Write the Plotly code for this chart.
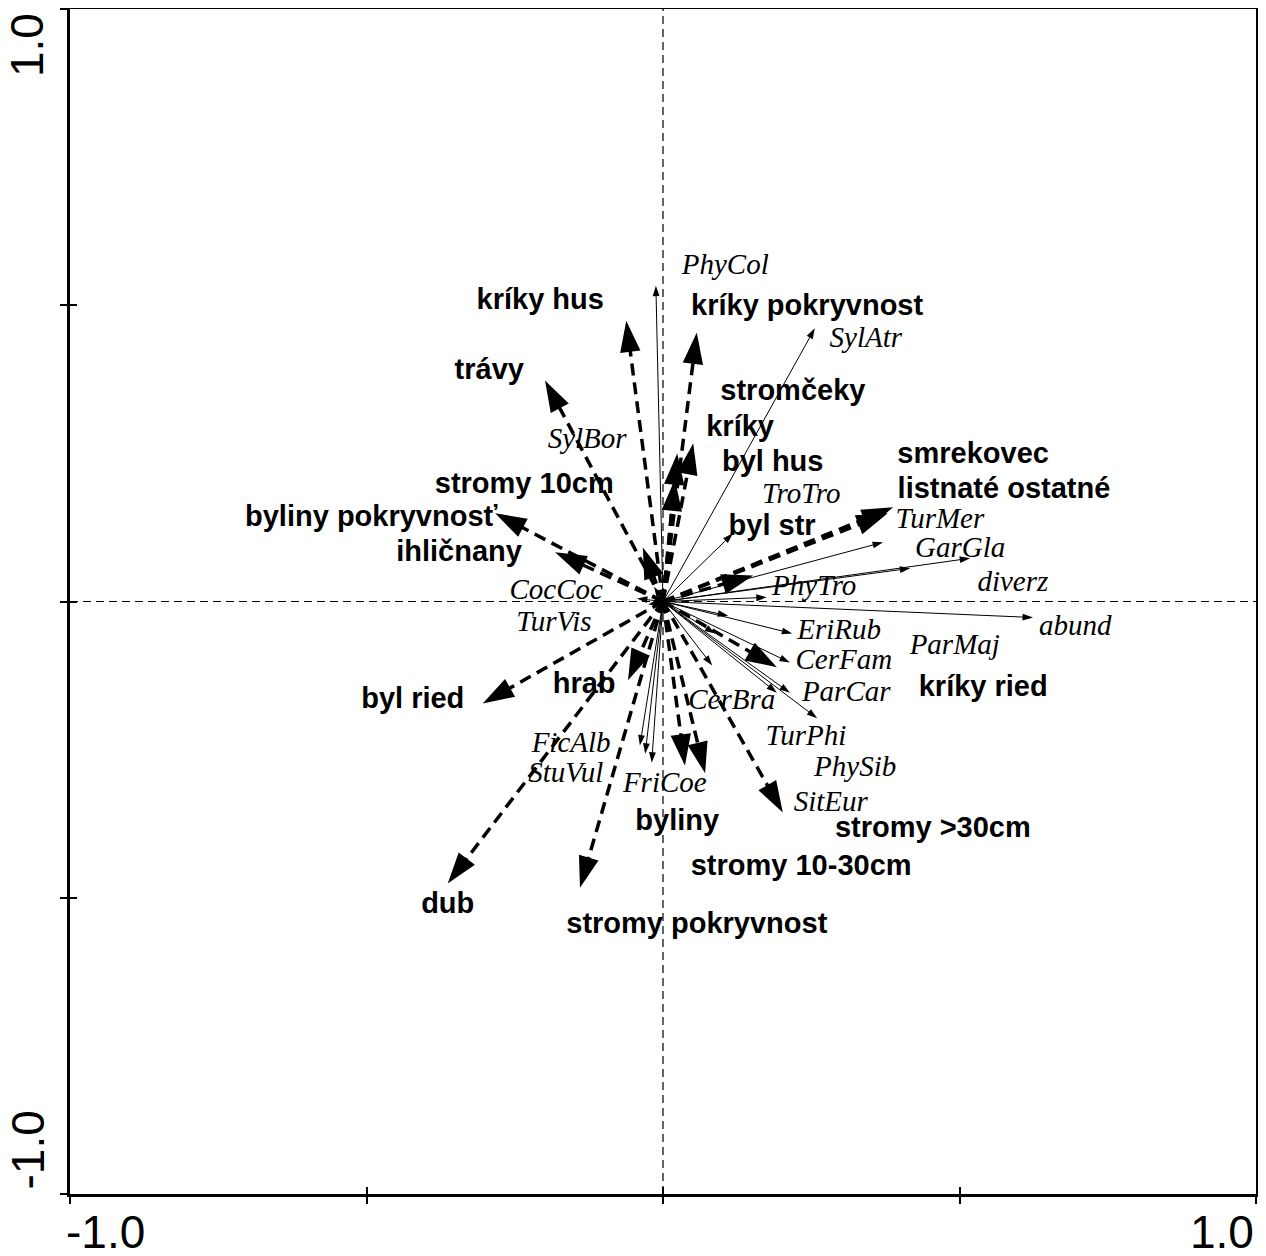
import plotly.graph_objects as go

# ---------------- data (biplot scores) ----------------
env_names = ["kríky hus", "kríky pokryvnost", "trávy", "stromčeky", "kríky", "byl hus",
             "stromy 10cm", "byliny pokryvnosť", "ihličnany", "byl str", "smrekovec",
             "listnaté ostatné", "byl ried", "hrab", "dub", "stromy pokryvnost", "byliny",
             "stromy 10-30cm", "stromy >30cm", "kríky ried"]
env_x = [-0.062, 0.057, -0.199, 0.051, 0.024, 0.020, -0.034, -0.283, -0.182, 0.152, 0.388,
         0.379, -0.304, -0.059, -0.363, -0.140, 0.037, 0.071, 0.202, 0.192]
env_y = [0.474, 0.454, 0.373, 0.267, 0.250, 0.206, 0.091, 0.149, 0.083, 0.044, 0.159,
         0.149, -0.172, -0.133, -0.476, -0.483, -0.277, -0.290, -0.356, -0.111]

spe_names = ["PhyCol", "SylAtr", "SylBor", "TroTro", "TurMer", "GarGla", "diverz", "PhyTro",
             "CocCoc", "TurVis", "abund", "EriRub", "ParMaj", "CerFam", "CerBra", "ParCar",
             "TurPhi", "PhySib", "SitEur", "FicAlb", "StuVul", "FriCoe"]
spe_x = [-0.012, 0.256, -0.015, 0.118, 0.371, 0.417, 0.518, 0.175, -0.044, -0.025, 0.624,
         0.218, 0.110, 0.214, 0.083, 0.214, 0.260, 0.192, 0.088, -0.039, -0.030, -0.019]
spe_y = [0.533, 0.461, 0.025, 0.115, 0.100, 0.056, 0.073, 0.007, 0.005, -0.005, -0.027,
         -0.054, -0.024, -0.103, -0.108, -0.154, -0.197, -0.154, -0.054, -0.243, -0.257, -0.272]

axis_tick_vals = [-1.0, -0.5, 0.0, 0.5, 1.0]
axis_end_labels = ["-1.0", "1.0"]

# ---------------- label placement (layout) ----------------
env_lab_x = [-0.207, 0.243, -0.293, 0.219, 0.130, 0.185, -0.234, -0.492, -0.344, 0.184, 0.523,
             0.575, -0.422, -0.133, -0.363, 0.057, 0.024, 0.233, 0.455, 0.540]
env_lab_y = [0.506, 0.496, 0.388, 0.353, 0.292, 0.233, 0.196, 0.140, 0.081, 0.125, 0.246,
             0.187, -0.167, -0.143, -0.513, -0.547, -0.373, -0.449, -0.385, -0.147]
spe_lab_x = [0.105, 0.342, -0.128, 0.233, 0.467, 0.501, 0.590, 0.255, -0.180, -0.184, 0.695,
             0.297, 0.492, 0.305, 0.116, 0.309, 0.241, 0.324, 0.283, -0.155, -0.164, 0.003]
spe_lab_y = [0.565, 0.441, 0.272, 0.179, 0.137, 0.088, 0.030, 0.024, 0.017, -0.037, -0.044,
             -0.051, -0.076, -0.101, -0.169, -0.155, -0.230, -0.282, -0.341, -0.241, -0.292, -0.309]


def arrow_path(xs, ys, head):
    px, py, sym, sz = [], [], [], []
    for x, y in zip(xs, ys):
        px += [0, x, None]
        py += [0, y, None]
        sym += ["circle", "arrow", "circle"]
        sz += [0, head, 0]
    return px, py, sym, sz


fig = go.Figure()

# labels (drawn first so arrows lie on top, as in the reference)
fig.add_trace(go.Scatter(
    x=env_lab_x, y=env_lab_y, text=env_names, mode="text",
    textposition="middle center",
    textfont=dict(family="Liberation Sans, Arial", size=29, color="black", weight="bold"),
    hoverinfo="skip", cliponaxis=False))
fig.add_trace(go.Scatter(
    x=spe_lab_x, y=spe_lab_y, text=spe_names, mode="text",
    textposition="middle center",
    textfont=dict(family="Liberation Serif, Times New Roman", size=29, color="black", style="italic"),
    hoverinfo="skip", cliponaxis=False))

# species arrows: thin solid
sx, sy, ssym, ssz = arrow_path(spe_x, spe_y, 11)
fig.add_trace(go.Scatter(
    x=sx, y=sy, mode="lines+markers",
    line=dict(color="black", width=1),
    marker=dict(symbol=ssym, size=ssz, angleref="previous", color="black", opacity=1,
                line=dict(width=0)),
    hoverinfo="skip"))

# environmental arrows: heavy dashed
ex, ey, esym, esz = arrow_path(env_x, env_y, 33)
fig.add_trace(go.Scatter(
    x=ex, y=ey, mode="lines+markers",
    line=dict(color="black", width=3.5, dash="12px,7px"),
    marker=dict(symbol=esym, size=esz, angleref="previous", color="black", opacity=1,
                line=dict(width=0)),
    hoverinfo="skip"))

# dummy trace to create overlay axes for inward tick halves
fig.add_trace(go.Scatter(x=[None], y=[None], xaxis="x2", yaxis="y2", showlegend=False,
                         hoverinfo="skip"))

# dashed zero lines
fig.add_shape(type="line", xref="x", yref="y", x0=-1, x1=1, y0=0, y1=0,
              line=dict(color="black", width=1.2, dash="8px,5px"), layer="below")
fig.add_shape(type="line", xref="x", yref="y", x0=0, x1=0, y0=-1, y1=1,
              line=dict(color="black", width=1.2, dash="8px,5px"), layer="below")

axis_common = dict(range=[-1, 1], showgrid=False, zeroline=False, tickmode="array",
                   tickvals=axis_tick_vals, ticklen=7, tickwidth=2, tickcolor="black",
                   showticklabels=False, fixedrange=True, automargin=False)

# the page body has an 8px default margin; size/margins compensate for it
fig.update_layout(
    width=1258, height=1249,
    margin=dict(l=62, r=10, t=1, b=63, autoexpand=False),
    paper_bgcolor="white", plot_bgcolor="white",
    showlegend=False,
    xaxis=dict(**axis_common, ticks="outside", showline=True, linecolor="black",
               linewidth=2.5, mirror=True),
    yaxis=dict(**axis_common, ticks="outside", showline=True, linecolor="black",
               linewidth=2.5, mirror=True),
    xaxis2=dict(**axis_common, ticks="inside", overlaying="x", anchor="y2", side="bottom",
                showline=False),
    yaxis2=dict(**axis_common, ticks="inside", overlaying="y", anchor="x2", side="left",
                showline=False),
)

lab_font = dict(family="Liberation Sans, Arial", size=46, color="black")
fig.add_annotation(x=axis_tick_vals[0], y=0, xref="x", yref="paper", text=axis_end_labels[0],
                   showarrow=False, xanchor="left", yanchor="top", yshift=-13, xshift=-6,
                   font=lab_font, height=46, valign="middle")
fig.add_annotation(x=axis_tick_vals[-1], y=0, xref="x", yref="paper", text=axis_end_labels[1],
                   showarrow=False, xanchor="right", yanchor="top", yshift=-13, xshift=0,
                   font=lab_font, height=46, valign="middle")
fig.add_annotation(x=0, y=axis_tick_vals[-1], xref="paper", yref="y", text=axis_end_labels[1],
                   showarrow=False, xanchor="right", yanchor="top", xshift=-24, yshift=-2,
                   textangle=-90, font=lab_font, height=34, valign="middle")
fig.add_annotation(x=0, y=axis_tick_vals[0], xref="paper", yref="y", text=axis_end_labels[0],
                   showarrow=False, xanchor="right", yanchor="bottom", xshift=-24, yshift=2,
                   textangle=-90, font=lab_font, height=34, valign="middle")

fig.write_html("out.html")
